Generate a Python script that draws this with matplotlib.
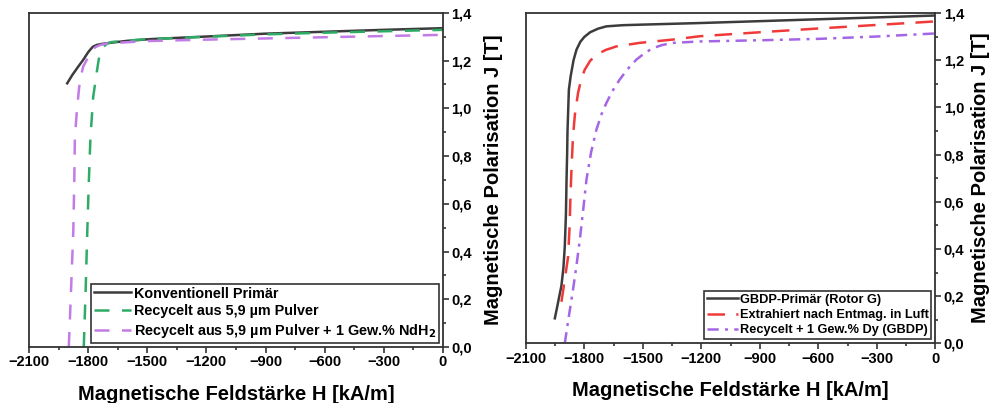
import numpy as np
import matplotlib
matplotlib.use('Agg')
import matplotlib.pyplot as plt
from matplotlib.ticker import MultipleLocator, FuncFormatter

plt.rcParams['font.family'] = ['Liberation Sans', 'DejaVu Sans']
plt.rcParams['font.weight'] = 'bold'

# linkes Diagramm
konv_H = [-1906, -1880, -1850, -1825, -1800, -1785, -1774, -1755, -1730, -1706, -1600, -1486, -1200, -900, -600, -300, 0]
konv_J = [1.105, 1.14, 1.175, 1.203, 1.235, 1.25, 1.259, 1.266, 1.270, 1.273, 1.283, 1.290, 1.301, 1.313, 1.321, 1.329, 1.336]

rec_H = [-1822, -1812, -1804, -1796, -1788, -1774, -1765, -1757, -1748, -1740, -1725, -1706, -1680, -1600, -1500, -1200, -900, -600, -300, 0]
rec_J = [0.0, 0.25, 0.49, 0.70, 0.88, 1.049, 1.10, 1.147, 1.195, 1.231, 1.255, 1.270, 1.278, 1.284, 1.290, 1.300, 1.310, 1.317, 1.323, 1.329]

ndh_H = [-1898, -1886, -1875, -1870, -1867, -1856, -1845, -1835, -1825, -1807, -1795, -1780, -1760, -1740, -1706, -1500, -1200, -900, -600, -300, 0]
ndh_J = [0.0, 0.25, 0.49, 0.70, 0.88, 1.00, 1.091, 1.14, 1.175, 1.203, 1.225, 1.245, 1.258, 1.265, 1.272, 1.282, 1.288, 1.293, 1.298, 1.303, 1.308]

# rechtes Diagramm
gbdp_H = [-1951, -1940, -1928, -1917, -1907, -1900, -1894, -1891, -1888, -1886, -1879, -1870, -1855, -1840, -1820, -1800,
          -1770, -1730, -1687, -1600, -1516, -1209, -900, -600, -300, 0]
gbdp_J = [0.106, 0.15, 0.20, 0.245, 0.32, 0.41, 0.55, 0.693, 0.80, 0.90, 1.075, 1.131, 1.20, 1.244, 1.278, 1.298,
          1.318, 1.333, 1.343, 1.348, 1.350, 1.357, 1.365, 1.373, 1.381, 1.389]

extr_H = [-1917, -1900, -1883, -1875, -1871, -1865, -1858, -1848, -1832, -1815, -1798, -1770, -1738, -1690, -1636,
          -1516, -1346, -1209, -900, -600, -300, 0]
extr_J = [0.176, 0.27, 0.367, 0.50, 0.622, 0.75, 0.876, 0.97, 1.061, 1.12, 1.159, 1.197, 1.223, 1.243, 1.258,
          1.273, 1.287, 1.301, 1.318, 1.334, 1.349, 1.364]

dy_H = [-1900, -1880, -1858, -1840, -1823, -1805, -1789, -1765, -1738, -1712, -1687, -1655, -1619, -1580, -1533,
        -1490, -1448, -1400, -1346, -1209, -900, -600, -300, 0]
dy_J = [0.0, 0.11, 0.226, 0.33, 0.438, 0.57, 0.693, 0.81, 0.905, 0.97, 1.018, 1.07, 1.117, 1.16, 1.202,
        1.23, 1.251, 1.264, 1.273, 1.279, 1.284, 1.290, 1.300, 1.313]

x_ticks = [-2100, -1800, -1500, -1200, -900, -600, -300, 0]
y_ticks = [0.0, 0.2, 0.4, 0.6, 0.8, 1.0, 1.2, 1.4]

fig = plt.figure(figsize=(9.92, 4.03), dpi=100)
ax1 = fig.add_axes([0.0292, 0.139, 0.4173, 0.829])
ax2 = fig.add_axes([0.530, 0.148, 0.413, 0.820])

ax1.plot(konv_H, konv_J, color='#3c3c3c', lw=1.8, label='Konventionell Primär')
ax1.plot(rec_H, rec_J, color='#2eac66', lw=1.8, dashes=(6, 5), label='Recycelt aus 5,9 µm Pulver')
ax1.plot(ndh_H, ndh_J, color='#c27ce6', lw=1.8, dashes=(6, 5),
         label='Recycelt aus 5,9 µm Pulver + 1 Gew.% NdH$_\\mathbf{2}$')

ax2.plot(gbdp_H, gbdp_J, color='#3c3c3c', lw=1.8, label='GBDP-Primär (Rotor G)')
ax2.plot(extr_H, extr_J, color='#f03a3a', lw=1.8, dashes=(7, 4.5), label='Extrahiert nach Entmag. in Luft')
ax2.plot(dy_H, dy_J, color='#a566e6', lw=1.8, dashes=(4.5, 2.5, 1.2, 2.5), label='Recycelt + 1 Gew.% Dy (GBDP)')

comma = FuncFormatter(lambda v, p: f'{v:.1f}'.replace('.', ','))
minus = FuncFormatter(lambda v, p: f'{v:.0f}'.replace('-', '\u2212'))

for ax, lp in ((ax1, 9), (ax2, 5)):
    ax.set_xlim(-2100, 0)
    ax.set_ylim(0, 1.4)
    ax.set_xticks(x_ticks)
    ax.set_yticks(y_ticks)
    ax.xaxis.set_minor_locator(MultipleLocator(150))
    ax.yaxis.set_minor_locator(MultipleLocator(0.1))
    ax.xaxis.set_major_formatter(minus)
    ax.yaxis.set_major_formatter(comma)
    ax.yaxis.tick_right()
    ax.yaxis.set_label_position('right')
    ax.tick_params(which='both', direction='out', top=False, left=False, right=True, bottom=True,
                   width=1.2, colors='#333333', labelcolor='black')
    ax.tick_params(which='major', length=4, labelsize=10.5, pad=2)
    ax.tick_params(which='minor', length=2.5)
    for s in ax.spines.values():
        s.set_linewidth(1.3)
        s.set_color('#333333')
    ax.set_xlabel('Magnetische Feldstärke H [kA/m]', fontsize=14.5, fontweight='bold', labelpad=11)
    ax.set_ylabel('Magnetische Polarisation J [T]', fontsize=14.5, fontweight='bold', labelpad=lp)
    for lab in ax.get_xticklabels() + ax.get_yticklabels():
        lab.set_fontweight('bold')

leg1 = ax1.legend(loc='lower right', fontsize=10.4, frameon=True, fancybox=False, borderpad=0.2,
                  borderaxespad=0.3, labelspacing=0.25, handlelength=2.6, handletextpad=0.15)
leg2 = ax2.legend(loc='lower right', fontsize=9.2, frameon=True, fancybox=False, borderpad=0.2,
                  borderaxespad=0.35, labelspacing=0.25, handlelength=2.4, handletextpad=0.15)
for leg in (leg1, leg2):
    fr = leg.get_frame()
    fr.set_edgecolor('#333333')
    fr.set_linewidth(1.2)
    fr.set_alpha(1)

fig.savefig('out.png', dpi=100)
